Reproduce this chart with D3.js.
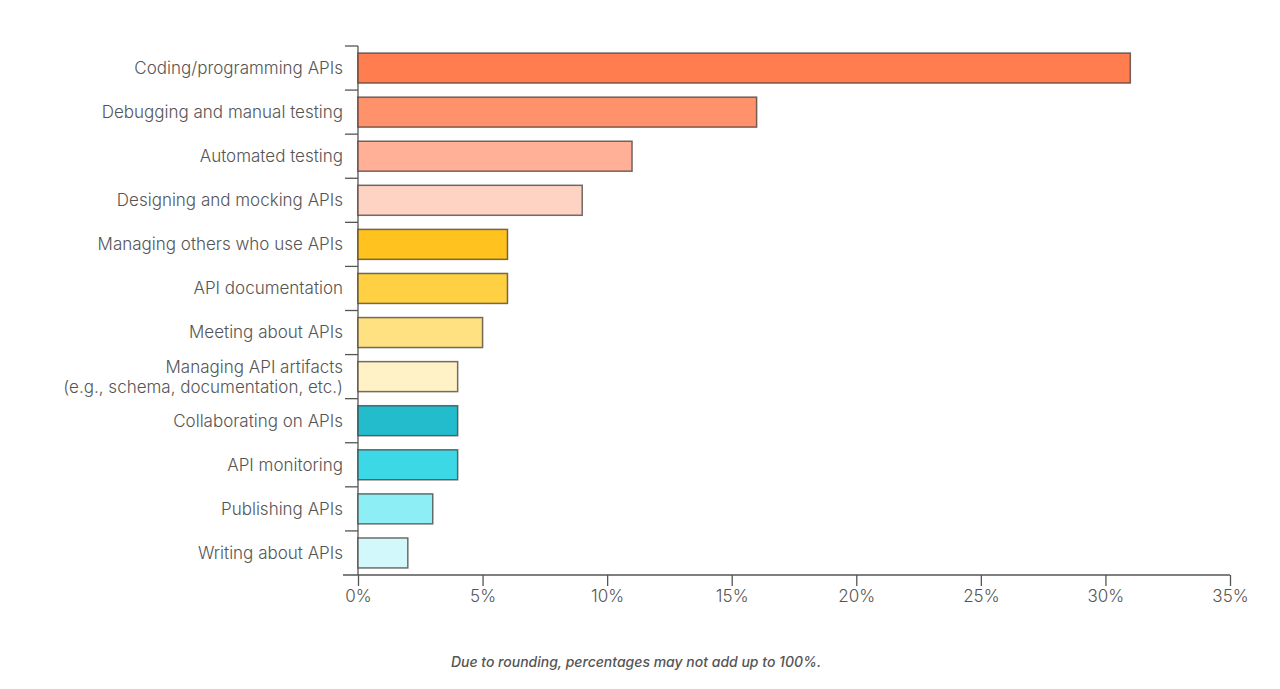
<!DOCTYPE html>
<html lang="en">
<head>
<meta charset="utf-8">
<title>API time</title>
<script src="https://cdn.jsdelivr.net/npm/d3@7"></script>
<style>
  body { margin: 0; background: #fff; font-family: Inter, "Noto Sans", sans-serif; }
</style>
</head>
<body>
<script>
var w = 1280;
var h = 689;

var categories = [
  "Coding/programming APIs",
  "Debugging and manual testing",
  "Automated testing",
  "Designing and mocking APIs",
  "Managing others who use APIs",
  "API documentation",
  "Meeting about APIs",
  "Managing API artifacts|(e.g., schema, documentation, etc.)",
  "Collaborating on APIs",
  "API monitoring",
  "Publishing APIs",
  "Writing about APIs"
];
var values = [31, 16, 11, 9, 6, 6, 5, 4, 4, 4, 3, 2];
var colors = ["#ff7d4f", "#ff916b", "#ffb096", "#ffd3c3", "#ffc21f", "#ffd041", "#ffe182",
              "#fff2c6", "#22bccd", "#3dd8e6", "#8eeef5", "#d2f8fb"];
var xTicks = [0, 5, 10, 15, 20, 25, 30, 35];

var margin = {top: 46, left: 358, right: 50, bottom: 114};

var svg = d3.select("body").append("svg")
  .attr("width", w)
  .attr("height", h);

var xScale = d3.scaleLinear()
  .domain([0, 35])
  .range([margin.left, w - margin.right]);

var yScale = d3.scaleBand()
  .domain(categories)
  .range([margin.top, h - margin.bottom])
  .paddingInner(0.32)
  .paddingOuter(0.16);

var y0 = margin.top, y1 = h - margin.bottom;
var step = (y1 - y0) / categories.length;
var axisColor = "#555";

// y axis line + ticks between the bands
svg.append("line")
  .attr("x1", margin.left).attr("x2", margin.left)
  .attr("y1", y0).attr("y2", y1)
  .attr("stroke", axisColor).attr("stroke-width", 1.3);

svg.selectAll(".ytick")
  .data(d3.range(categories.length))
  .enter()
  .append("line")
  .attr("x1", margin.left - 13).attr("x2", margin.left)
  .attr("y1", function(i){ return y0 + i * step; })
  .attr("y2", function(i){ return y0 + i * step; })
  .attr("stroke", axisColor).attr("stroke-width", 1.3);

// bars
svg.selectAll("rect")
  .data(values)
  .enter()
  .append("rect")
  .attr("x", xScale(0))
  .attr("y", function(d, i){ return yScale(categories[i]); })
  .attr("width", function(d){ return xScale(d) - xScale(0); })
  .attr("height", yScale.bandwidth())
  .attr("fill", function(d, i){ return colors[i]; })
  .attr("stroke", "rgba(70,60,55,0.75)")
  .attr("stroke-width", 1.5);

// category labels
var labels = svg.selectAll(".ylabel")
  .data(categories)
  .enter()
  .append("text")
  .attr("text-anchor", "end")
  .attr("font-size", "17px")
  .attr("font-weight", 300)
  .attr("fill", "#555")
  .attr("transform", function(d){
    return "translate(" + (margin.left - 15) + "," + (yScale(d) + yScale.bandwidth() / 2) + ")";
  });

labels.each(function(d){
  var parts = d.split("|");
  var t = d3.select(this);
  parts.forEach(function(p, j){
    t.append("tspan")
      .attr("x", 0)
      .attr("y", (j - (parts.length - 1) / 2) * 20)
      .attr("dy", "0.35em")
      .text(p);
  });
});

// x axis
var xAxis = d3.axisBottom(xScale)
  .tickValues(xTicks)
  .tickFormat(function(d){ return d + "%"; })
  .tickSize(11)
  .tickPadding(4)
  .tickSizeOuter(0);

var gx = svg.append("g")
  .attr("transform", "translate(0," + y1 + ")")
  .call(xAxis);

gx.select(".domain").remove();
gx.append("line")
  .attr("x1", margin.left - 15).attr("x2", xScale(35))
  .attr("y1", 0).attr("y2", 0)
  .attr("stroke", axisColor).attr("stroke-width", 1.3);
gx.selectAll(".tick line").attr("stroke", axisColor).attr("stroke-width", 1.3);
gx.selectAll(".tick text")
  .attr("font-family", "Inter, sans-serif")
  .attr("font-size", "17px")
  .attr("font-weight", 300)
  .attr("fill", "#555");

// footnote
svg.append("text")
  .attr("x", 636)
  .attr("y", 667)
  .attr("text-anchor", "middle")
  .attr("font-size", "14px")
  .attr("font-style", "italic")
  .attr("font-weight", 500)
  .attr("fill", "#555")
  .text("Due to rounding, percentages may not add up to 100%.");
</script>
</body>
</html>
